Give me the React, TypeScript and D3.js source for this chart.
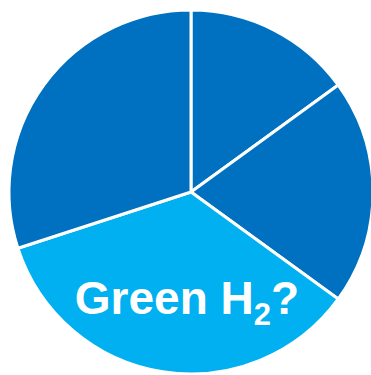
import React from "react";
import * as d3 from "d3";

const categories = ["A", "B", "Green H2", "D"];
const shares = [15, 20, 35, 30];
const sliceColors = ["#0070C0", "#0070C0", "#00B0F0", "#0070C0"];

const width = 371;
const height = 375;
const cx = 191;
const cy = 192;
const radius = 182;

const App = () => {
  const pie = d3
    .pie<number>()
    .sort(null)
    .value((d) => d);
  const arcs = pie(shares);
  const arc = d3.arc<d3.PieArcDatum<number>>().innerRadius(0).outerRadius(radius);

  return (
    <svg
      width={width}
      height={height}
      style={{ position: "absolute", left: 0, top: 0, display: "block" }}
    >
      <g transform={`translate(${cx}, ${cy})`}>
        {arcs.map((a, i) => (
          <path
            key={categories[i]}
            d={arc(a) || ""}
            fill={sliceColors[i]}
            stroke="#fff"
            strokeWidth={3}
            strokeLinejoin="round"
          />
        ))}
      </g>
      <text
        x={187}
        y={314}
        textAnchor="middle"
        fill="#fff"
        fontFamily="Liberation Sans, Arial, sans-serif"
        fontWeight="bold"
        fontSize={46}
      >
        Green H
        <tspan fontSize={31} dy={11}>2</tspan>
        <tspan dy={-11}>?</tspan>
      </text>
    </svg>
  );
};

export default App;
